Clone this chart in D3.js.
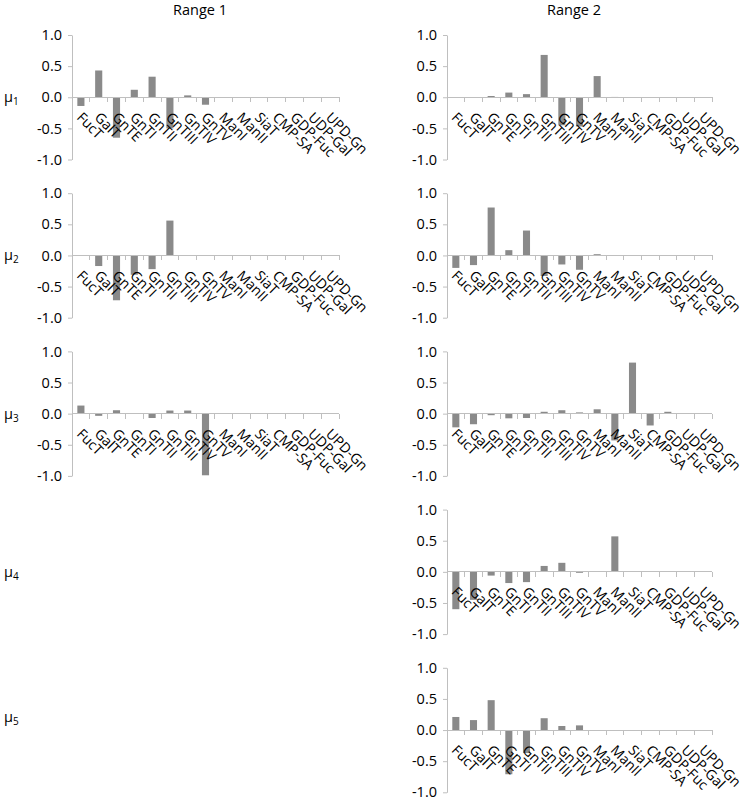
<!DOCTYPE html>
<html><head><meta charset="utf-8">
<script src="https://cdn.jsdelivr.net/npm/d3@7"></script>
<style>body{margin:0;background:#fff}svg{display:block}</style>
</head><body><svg id="c" width="745" height="802"></svg>
<script>
const categories = ["FucT","GalT","GnTE","GnTI","GnTII","GnTIII","GnTIV","GnTV","ManI","ManII","SiaT","CMP-SA","GDP-Fuc","UDP-Gal","UPD-Gn"];
const yTickValues = [-1, -0.5, 0, 0.5, 1];
const columnTitles = ["Range 1", "Range 2"];
const rowSubscripts = ["1", "2", "3", "4", "5"];

const range1Mu1 = [-0.14, 0.43, -0.65, 0.12, 0.33, -0.50, 0.03, -0.12, 0, 0, 0, 0, 0, 0, 0];
const range1Mu2 = [0, -0.17, -0.72, -0.31, -0.22, 0.56, 0, 0, 0, 0, 0, 0, 0, 0, 0];
const range1Mu3 = [0.13, -0.035, 0.055, 0, -0.07, 0.05, 0.05, -0.99, 0, 0, 0, 0, 0, 0, 0];
const range2Mu1 = [-0.01, 0, 0.02, 0.075, 0.05, 0.68, -0.45, -0.47, 0.34, 0.005, 0, 0, 0, 0, 0];
const range2Mu2 = [-0.20, -0.155, 0.77, 0.085, 0.40, -0.33, -0.145, -0.23, 0.02, 0.005, 0, 0, 0, 0, 0];
const range2Mu3 = [-0.22, -0.17, -0.025, -0.075, -0.07, 0.03, 0.055, 0.02, 0.07, -0.43, 0.82, -0.19, 0.03, 0.005, 0];
const range2Mu4 = [-0.60, -0.45, -0.06, -0.18, -0.165, 0.095, 0.145, -0.015, 0.005, 0.57, 0, 0, 0, 0, 0];
const range2Mu5 = [0.21, 0.16, 0.48, -0.71, -0.37, 0.19, 0.065, 0.075, -0.01, 0, 0, 0, 0, 0, 0];

const panels = [
  {col: 0, row: 0, values: range1Mu1},
  {col: 0, row: 1, values: range1Mu2},
  {col: 0, row: 2, values: range1Mu3},
  {col: 1, row: 0, values: range2Mu1},
  {col: 1, row: 1, values: range2Mu2},
  {col: 1, row: 2, values: range2Mu3},
  {col: 1, row: 3, values: range2Mu4},
  {col: 1, row: 4, values: range2Mu5}
];

const FONT = "'Open Sans', sans-serif";
const AXIS = "#bfbfbf";
const BAR = "#8a8a8a";
const colX = [[72, 339], [447, 712]];
const rowTop0 = 35, rowStep = 158.2, plotH = 124.5;
const rowLabelShift = [0, 0, 0, 0, -13];

const svg = d3.select("#c");

// column titles
columnTitles.forEach((t, i) => {
  svg.append("text")
    .attr("x", i === 0 ? 200 : 574).attr("y", 15)
    .attr("text-anchor", "middle")
    .attr("font-family", FONT).attr("font-size", 14.5).attr("fill", "#000")
    .text(t);
});

// row labels
rowSubscripts.forEach((s, i) => {
  const zero = rowTop0 + i * rowStep + plotH / 2 + rowLabelShift[i];
  const t = svg.append("text")
    .attr("x", 4).attr("y", zero + 5)
    .attr("font-family", FONT).attr("font-size", 14.5).attr("fill", "#000");
  t.append("tspan").text("\u03bc");
  t.append("tspan").attr("font-size", 10).attr("dy", 3).text(s);
});

panels.forEach(p => {
  const top = rowTop0 + p.row * rowStep;
  const [x0, x1] = colX[p.col];
  const x = d3.scaleBand().domain(categories).range([x0, x1]).padding(0);
  const y = d3.scaleLinear().domain([-1, 1]).range([top + plotH, top]);
  const g = svg.append("g");
  const bw = x.bandwidth();
  const data = categories.map((c, i) => ({c, v: p.values[i]}));

  // bars
  g.selectAll("rect").data(data).enter().append("rect")
    .attr("x", d => x(d.c) + bw * 0.3)
    .attr("width", bw * 0.4)
    .attr("y", d => y(Math.max(0, d.v)))
    .attr("height", d => Math.abs(y(d.v) - y(0)))
    .attr("fill", BAR);

  // y axis
  const ya = g.append("g").attr("transform", `translate(${x0},0)`)
    .call(d3.axisLeft(y).tickValues(yTickValues).tickSize(4).tickSizeOuter(0).tickPadding(6)
      .tickFormat(d => d.toFixed(1)));
  ya.select(".domain").attr("stroke", AXIS);
  ya.selectAll(".tick line").attr("stroke", AXIS);
  ya.selectAll(".tick text").attr("font-family", FONT).attr("font-size", 14.5).attr("fill", "#000");

  // category axis at zero
  const zero = y(0);
  g.append("line").attr("x1", x0).attr("x2", x1).attr("y1", zero).attr("y2", zero)
    .attr("stroke", AXIS).attr("shape-rendering", "crispEdges");
  const bounds = categories.map(c => x(c)).concat([x1]);
  g.selectAll("line.ct").data(bounds).enter().append("line").attr("class", "ct")
    .attr("x1", d => d).attr("x2", d => d).attr("y1", zero).attr("y2", zero + 5)
    .attr("stroke", AXIS).attr("shape-rendering", "crispEdges");

  // category labels, rotated 45deg
  g.selectAll("text.cl").data(categories).enter().append("text").attr("class", "cl")
    .attr("transform", c => `translate(${x(c) + bw / 2 - 5},${zero + 21}) rotate(45)`)
    .attr("font-family", FONT).attr("font-size", 14).attr("fill", "#000")
    .text(c => c);
});
</script>
</body></html>
